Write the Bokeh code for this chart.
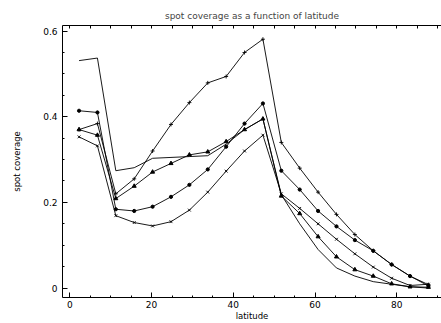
from bokeh.plotting import figure
from bokeh.models import Range1d, LinearAxis, FixedTicker
from bokeh.embed import file_html
from bokeh.resources import INLINE

# latitude bin centres (4.5 degree bins)
lat = [2.25, 6.75, 11.25, 15.75, 20.25, 24.75, 29.25, 33.75, 38.25, 42.75,
       47.25, 51.75, 56.25, 60.75, 65.25, 69.75, 74.25, 78.75, 83.25, 87.75]

plain = [0.531, 0.537, 0.274, 0.281, 0.303, 0.305, 0.307, 0.309, 0.336, 0.370,
         0.395, 0.218, 0.150, 0.090, 0.047, 0.028, 0.015, 0.009, 0.003, 0.000]
plus = [0.370, 0.384, 0.220, 0.255, 0.320, 0.382, 0.433, 0.479, 0.494, 0.550,
        0.581, 0.340, 0.280, 0.224, 0.172, 0.125, 0.087, 0.055, 0.028, 0.008]
dots = [0.414, 0.410, 0.184, 0.180, 0.190, 0.213, 0.241, 0.277, 0.330, 0.384,
        0.431, 0.274, 0.230, 0.180, 0.144, 0.112, 0.087, 0.055, 0.028, 0.005]
crosses = [0.353, 0.332, 0.169, 0.153, 0.145, 0.155, 0.182, 0.224, 0.273, 0.320,
           0.357, 0.220, 0.186, 0.150, 0.114, 0.080, 0.049, 0.023, 0.006, 0.009]
tris = [0.370, 0.357, 0.209, 0.238, 0.271, 0.291, 0.311, 0.318, 0.342, 0.370,
        0.395, 0.215, 0.174, 0.120, 0.073, 0.043, 0.028, 0.010, 0.003, 0.002]

x_major = [0, 20, 40, 60, 80]
x_minor = [-5, 5, 10, 15, 25, 30, 35, 45, 50, 55, 65, 70, 75, 85, 90]
x_top = [0, 5, 10, 15, 20, 25, 30, 35, 40, 45, 50, 55, 60, 65, 70, 75, 80, 85, 90]
y_major = [0, 0.2, 0.4, 0.6]
y_minor = [0.05, 0.1, 0.15, 0.25, 0.3, 0.35, 0.45, 0.5, 0.55]
y_labels = {0: "0", 0.2: "0.2", 0.4: "0.4", 0.6: "0.6"}

FONT = "DejaVu Sans"

p = figure(width=441, height=323, output_backend="svg", toolbar_location=None,
           x_range=Range1d(-1.8, 90.95), y_range=Range1d(-0.022, 0.613),
           min_border_left=62, min_border_right=0, min_border_top=25,
           min_border_bottom=23,
           title="spot coverage as a function of latitude")
p.title.text_font = FONT
p.title.text_font_size = "9px"
p.title.text_font_style = "normal"
p.title.align = "center"
p.title.standoff = 9
p.outline_line_color = None
p.grid.grid_line_color = None
p.background_fill_color = "white"
p.border_fill_color = "white"

xt = FixedTicker(ticks=x_major, minor_ticks=x_minor)
yt = FixedTicker(ticks=y_major, minor_ticks=y_minor)
tt = FixedTicker(ticks=[], minor_ticks=x_top)

bottom = p.xaxis[0]
left = p.yaxis[0]
bottom.ticker = xt
bottom.axis_label = "latitude"
left.ticker = yt
left.axis_label = "spot coverage"
left.major_label_overrides = y_labels

top = LinearAxis(ticker=tt, major_label_standoff=0)
p.add_layout(top, "above")

for ax in (bottom, left, top):
    ax.axis_line_color = "black"
    ax.axis_line_width = 1
    ax.major_tick_in = 5
    ax.major_tick_out = 0
    ax.minor_tick_in = 2
    ax.minor_tick_out = 0
    ax.major_tick_line_color = "black"
    ax.minor_tick_line_color = "black"
    ax.major_label_text_font = FONT
    ax.major_label_text_color = "black"
    ax.major_label_text_font_size = "9px"
    ax.axis_label_text_font = FONT
    ax.axis_label_text_font_size = "8.5px"
    ax.axis_label_text_font_style = "normal"
    ax.axis_label_text_color = "black"
left.major_label_standoff = 5
left.axis_label_standoff = 18
bottom.major_label_standoff = 3
bottom.axis_label_standoff = 0
top.minor_tick_in = 3

# lines
for ys in (plain, plus, dots, crosses, tris):
    p.line(lat, ys, line_color="black", line_width=0.9)

p.scatter(lat, plus, marker="cross", size=4, line_color="black", line_width=0.9)
p.scatter(lat, dots, marker="circle", size=3.2, line_color="black", fill_color="black")
p.scatter(lat, crosses, marker="x", size=4, line_color="black", line_width=0.9)
p.scatter(lat, tris, marker="triangle", size=4, line_color="black", fill_color="black")

open("out.html", "w").write(file_html(p, INLINE))
